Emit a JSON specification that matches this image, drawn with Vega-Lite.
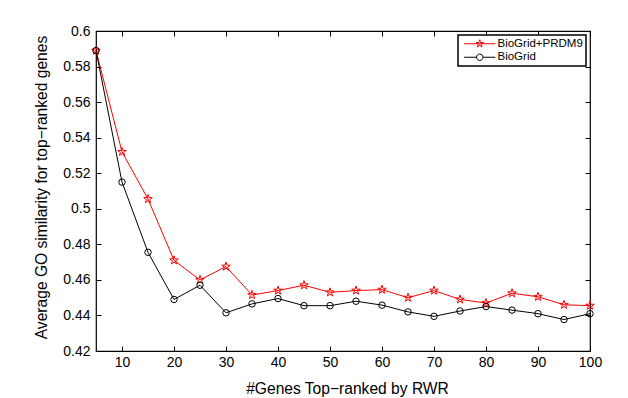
{
  "$schema": "https://vega.github.io/schema/vega-lite/v6.json",
  "autosize": {"type": "none"},
  "width": 494,
  "height": 320,
  "padding": {"left": 96, "top": 31, "right": 38, "bottom": 47},
  "background": "white",
  "config": {
    "font": "Liberation Sans",
    "view": {"stroke": "black", "strokeWidth": 1.2},
    "axis": {
      "domain": false,
      "grid": false,
      "tickColor": "black",
      "tickSize": -5,
      "labelFlush": false,
      "labelOverlap": false,
      "labelColor": "black",
      "labelFont": "Liberation Sans",
      "labelFontSize": 14,
      "titleColor": "black",
      "titleFont": "Liberation Sans",
      "titleFontSize": 15.6,
      "titleFontWeight": "normal"
    }
  },
  "data": {
    "values": [
      {"n": 5, "v": 0.589, "s": "BioGrid+PRDM9"},
      {"n": 10, "v": 0.532, "s": "BioGrid+PRDM9"},
      {"n": 15, "v": 0.5055, "s": "BioGrid+PRDM9"},
      {"n": 20, "v": 0.471, "s": "BioGrid+PRDM9"},
      {"n": 25, "v": 0.460, "s": "BioGrid+PRDM9"},
      {"n": 30, "v": 0.4675, "s": "BioGrid+PRDM9"},
      {"n": 35, "v": 0.4515, "s": "BioGrid+PRDM9"},
      {"n": 40, "v": 0.454, "s": "BioGrid+PRDM9"},
      {"n": 45, "v": 0.457, "s": "BioGrid+PRDM9"},
      {"n": 50, "v": 0.453, "s": "BioGrid+PRDM9"},
      {"n": 55, "v": 0.454, "s": "BioGrid+PRDM9"},
      {"n": 60, "v": 0.4545, "s": "BioGrid+PRDM9"},
      {"n": 65, "v": 0.450, "s": "BioGrid+PRDM9"},
      {"n": 70, "v": 0.454, "s": "BioGrid+PRDM9"},
      {"n": 75, "v": 0.449, "s": "BioGrid+PRDM9"},
      {"n": 80, "v": 0.447, "s": "BioGrid+PRDM9"},
      {"n": 85, "v": 0.4525, "s": "BioGrid+PRDM9"},
      {"n": 90, "v": 0.4505, "s": "BioGrid+PRDM9"},
      {"n": 95, "v": 0.446, "s": "BioGrid+PRDM9"},
      {"n": 100, "v": 0.4455, "s": "BioGrid+PRDM9"},
      {"n": 5, "v": 0.589, "s": "BioGrid"},
      {"n": 10, "v": 0.515, "s": "BioGrid"},
      {"n": 15, "v": 0.4755, "s": "BioGrid"},
      {"n": 20, "v": 0.449, "s": "BioGrid"},
      {"n": 25, "v": 0.457, "s": "BioGrid"},
      {"n": 30, "v": 0.4415, "s": "BioGrid"},
      {"n": 35, "v": 0.4465, "s": "BioGrid"},
      {"n": 40, "v": 0.4495, "s": "BioGrid"},
      {"n": 45, "v": 0.4455, "s": "BioGrid"},
      {"n": 50, "v": 0.4455, "s": "BioGrid"},
      {"n": 55, "v": 0.448, "s": "BioGrid"},
      {"n": 60, "v": 0.4458, "s": "BioGrid"},
      {"n": 65, "v": 0.442, "s": "BioGrid"},
      {"n": 70, "v": 0.4395, "s": "BioGrid"},
      {"n": 75, "v": 0.4425, "s": "BioGrid"},
      {"n": 80, "v": 0.445, "s": "BioGrid"},
      {"n": 85, "v": 0.443, "s": "BioGrid"},
      {"n": 90, "v": 0.441, "s": "BioGrid"},
      {"n": 95, "v": 0.4377, "s": "BioGrid"},
      {"n": 100, "v": 0.441, "s": "BioGrid"}
    ]
  },
  "encoding": {
    "x": {
      "field": "n", "type": "quantitative",
      "scale": {"domain": [5, 100], "nice": false, "zero": false}
    },
    "y": {
      "field": "v", "type": "quantitative",
      "scale": {"domain": [0.42, 0.6], "nice": false, "zero": false}
    }
  },
  "layer": [
    {
      "mark": {"type": "line", "strokeWidth": 1},
      "encoding": {
        "x": {"field": "n", "type": "quantitative",
          "axis": {"orient": "bottom", "values": [10,20,30,40,50,60,70,80,90,100], "labelPadding": 9, "title": "#Genes Top−ranked by RWR", "titlePadding": 12, "titleX": 251}},
        "y": {"field": "v", "type": "quantitative",
          "axis": {"orient": "left", "values": [0.42,0.44,0.46,0.48,0.5,0.52,0.54,0.56,0.58,0.6], "format": ".2~f", "labelPadding": 11, "title": "Average GO similarity for top−ranked genes", "titlePadding": 13, "titleY": 156}},
        "color": {"field": "s", "type": "nominal",
          "scale": {"domain": ["BioGrid+PRDM9", "BioGrid"], "range": ["#ff0000", "#000000"]},
          "legend": {
            "title": null,
            "orient": "top-right",
            "offset": 4,
            "padding": 3,
            "strokeColor": "black",
            "fillColor": "white",
            "labelFont": "Liberation Sans",
            "labelFontSize": 11.5,
            "labelColor": "black",
            "symbolSize": 64,
            "symbolOffset": 13,
            "labelOffset": 12,
            "rowPadding": 0.5,
            "symbolStrokeWidth": 1,
            "encode": {
              "legend": {"update": {"strokeWidth": {"value": 1.5}}},
              "symbols": {
                "update": {
                  "fill": {"value": "transparent"},
                  "shape": {"signal": "datum.value === 'BioGrid' ? 'M-3.9,0H-0.8A0.8,0.8 0 1,1 0.8,0A0.8,0.8 0 1,1 -0.8,0M0.8,0H3.9' : 'M-3.9,0H3.9M0,-1L0.2245,-0.309L0.951,-0.309L0.3633,0.118L0.588,0.809L0,0.382L-0.588,0.809L-0.3633,0.118L-0.951,-0.309L-0.2245,-0.309Z'"}
                }
              }
            }
          }
        },
        "detail": {"field": "s"}
      }
    },
    {
      "transform": [{"filter": "datum.s === 'BioGrid+PRDM9'"}],
      "mark": {"type": "point", "filled": false, "strokeWidth": 1, "opacity": 1, "color": "#ff0000", "size": 81,
        "shape": "M0,-1L0.2245,-0.309L0.951,-0.309L0.3633,0.118L0.588,0.809L0,0.382L-0.588,0.809L-0.3633,0.118L-0.951,-0.309L-0.2245,-0.309Z"},
      "encoding": {
        "x": {"field": "n", "type": "quantitative",
          "axis": {"orient": "top", "values": [10,20,30,40,50,60,70,80,90,100], "labels": false, "title": null}},
        "y": {"field": "v", "type": "quantitative",
          "axis": {"orient": "right", "values": [0.42,0.44,0.46,0.48,0.5,0.52,0.54,0.56,0.58,0.6], "labels": false, "title": null}}
      }
    },
    {
      "transform": [{"filter": "datum.s === 'BioGrid'"}],
      "mark": {"type": "point", "filled": false, "strokeWidth": 1, "opacity": 1, "color": "#000000", "size": 42, "shape": "circle"},
      "encoding": {
        "x": {"field": "n", "type": "quantitative", "axis": null},
        "y": {"field": "v", "type": "quantitative", "axis": null}
      }
    }
  ],
  "resolve": {"axis": {"x": "independent", "y": "independent"}}
}
